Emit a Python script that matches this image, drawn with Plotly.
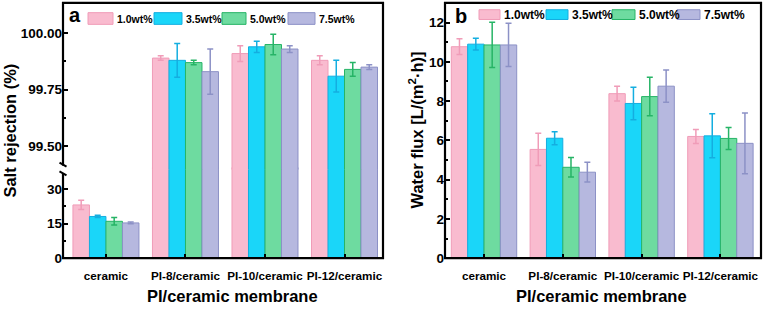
import plotly.graph_objects as go

W, H = 779, 312

categories = ["ceramic", "PI-8/ceramic", "PI-10/ceramic", "PI-12/ceramic"]
series = ["1.0wt%", "3.5wt%", "5.0wt%", "7.5wt%"]

# Salt rejection (%)
rej_10 = [23.1, 99.89, 99.91, 99.88]
rej_35 = [18.1, 99.88, 99.94, 99.81]
rej_50 = [16.0, 99.87, 99.95, 99.84]
rej_75 = [15.3, 99.83, 99.93, 99.85]
rej_err_10 = [2.0, 0.01, 0.035, 0.02]
rej_err_35 = [0.5, 0.075, 0.025, 0.07]
rej_err_50 = [1.6, 0.01, 0.045, 0.03]
rej_err_75 = [0.4, 0.10, 0.015, 0.01]

# Water flux L/(m2 h)
flux_10 = [10.77, 5.54, 8.38, 6.20]
flux_35 = [10.90, 6.11, 7.88, 6.23]
flux_50 = [10.86, 4.63, 8.23, 6.10]
flux_75 = [10.86, 4.38, 8.76, 5.85]
flux_err_10 = [0.40, 0.82, 0.38, 0.36]
flux_err_35 = [0.30, 0.33, 0.83, 1.12]
flux_err_50 = [1.15, 0.50, 0.98, 0.56]
flux_err_75 = [1.10, 0.50, 0.82, 1.55]

fills = ["#F9BBCF", "#1AD6F9", "#6EDBA0", "#B6B8DF"]
edges = ["#F09CB8", "#14AEE0", "#26B466", "#8C91C6"]

rej = [rej_10, rej_35, rej_50, rej_75]
rej_err = [rej_err_10, rej_err_35, rej_err_50, rej_err_75]
flux = [flux_10, flux_35, flux_50, flux_75]
flux_err = [flux_err_10, flux_err_35, flux_err_50, flux_err_75]

def px_x(v):
    return v / W

def px_y(v):
    return (H - v) / H

fig = go.Figure()

for i, name in enumerate(series):
    for xa, ya in (("x", "y"), ("x2", "y2")):
        fig.add_trace(go.Bar(
            x=categories, y=rej[i], name=name, xaxis=xa, yaxis=ya,
            marker=dict(color=fills[i], line=dict(color=edges[i], width=1)),
            error_y=dict(type="data", array=rej_err[i], color=edges[i], thickness=1.5, width=3),
            showlegend=False,
        ))
    fig.add_trace(go.Bar(
        x=categories, y=flux[i], name=name, xaxis="x3", yaxis="y3",
        marker=dict(color=fills[i], line=dict(color=edges[i], width=1)),
        error_y=dict(type="data", array=flux_err[i], color=edges[i], thickness=1.5, width=3),
        showlegend=False,
    ))

FONT = "Liberation Sans, Arial, sans-serif"
tickfont = dict(family=FONT, size=13.5, color="black", weight="bold")
xtickfont = dict(family=FONT, size=11.7, color="black", weight="bold")

yb, yt = px_y(265), px_y(3)
ysplit = px_y(174)
lx0, lx1 = px_x(63), px_x(383)
rx0, rx1 = px_x(445), px_x(761)

# lower part overlaps the upper one slightly to avoid a seam
lower_top = px_y(172)
lower_max = 0.4225 * (265 - 172)

common_y = dict(ticks="inside", ticklen=5, tickwidth=2, tickcolor="black",
                showgrid=False, zeroline=False, showline=False, tickfont=tickfont)

fig.update_layout(
    width=W, height=H, margin=dict(l=0, r=0, t=0, b=0),
    plot_bgcolor="rgba(0,0,0,0)", paper_bgcolor="white",
    barmode="group", bargap=0.17, bargroupgap=0,
    xaxis=dict(domain=[lx0, lx1], anchor="y", type="category", range=[-0.54, 3.484],
               ticks="inside", ticklen=4, tickwidth=2, tickcolor="black", tickangle=0,
               ticklabelstandoff=9,
               showgrid=False, showline=False, tickfont=xtickfont),
    yaxis=dict(domain=[yb, lower_top], anchor="x", range=[0, lower_max], tickvals=[0, 15, 30],
               minor=dict(ticks="inside", tickvals=[7.5, 22.5], ticklen=3, tickwidth=1.5, tickcolor="black"),
               **common_y),
    xaxis2=dict(domain=[lx0, lx1], anchor="y2", matches="x", type="category",
                showticklabels=False, ticks="", showgrid=False, showline=False),
    yaxis2=dict(domain=[ysplit, yt], anchor="x2", range=[99.397, 100.134],
                tickvals=[99.5, 99.75, 100.0], tickformat=".2f",
                minor=dict(ticks="inside", tickvals=[99.625, 99.875], ticklen=3, tickwidth=1.5, tickcolor="black"),
                **common_y),
    xaxis3=dict(domain=[rx0, rx1], anchor="y3", type="category", range=[-0.495, 3.515],
                ticks="inside", ticklen=4, tickwidth=2, tickcolor="black", tickangle=0,
                ticklabelstandoff=9,
                showgrid=False, showline=False, tickfont=xtickfont),
    yaxis3=dict(domain=[yb, yt], anchor="x3", range=[0, 13], dtick=2,
                minor=dict(ticks="inside", dtick=1, ticklen=3, tickwidth=1.5, tickcolor="black"),
                **common_y),
)

shapes = []
# frames
for x0, x1 in ((lx0, lx1), (rx0, rx1)):
    shapes.append(dict(type="rect", xref="paper", yref="paper", x0=x0, x1=x1, y0=yb, y1=yt,
                       line=dict(color="black", width=2.2), fillcolor="rgba(0,0,0,0)", layer="above"))
# axis break on left panel
shapes.append(dict(type="rect", xref="paper", yref="paper", x0=px_x(60), x1=px_x(66),
                   y0=px_y(178), y1=px_y(170), line=dict(width=0), fillcolor="white", layer="above"))
for yy in (167, 176):
    shapes.append(dict(type="line", xref="paper", yref="paper", x0=px_x(59.5), x1=px_x(66.5),
                       y0=px_y(yy), y1=px_y(yy + 4), line=dict(color="black", width=2), layer="above"))

annotations = []
# custom legends
leg_left = dict(boxes=[(88, 113), (154, 182), (222, 246), (288, 315)], y0=13, y1=25, size=10.5)
leg_right = dict(boxes=[(479, 500), (546, 568), (612, 635), (677, 700)], y0=10, y1=20, size=12)
for leg in (leg_left, leg_right):
    for i, (bx0, bx1) in enumerate(leg["boxes"]):
        shapes.append(dict(type="rect", xref="paper", yref="paper", x0=px_x(bx0), x1=px_x(bx1),
                           y0=px_y(leg["y1"]), y1=px_y(leg["y0"]),
                           line=dict(color=edges[i], width=1), fillcolor=fills[i], layer="above"))
        annotations.append(dict(xref="paper", yref="paper", x=px_x(bx1 + 1.5), y=px_y((leg["y0"] + leg["y1"]) / 2),
                                text="<b>%s</b>" % series[i], showarrow=False, xanchor="left", yanchor="middle",
                                font=dict(family=FONT, size=leg["size"], color="black")))

# panel labels
annotations.append(dict(xref="paper", yref="paper", x=px_x(67), y=px_y(15), text="<b>a</b>", showarrow=False,
                        xanchor="left", yanchor="middle", font=dict(family=FONT, size=20, color="black")))
annotations.append(dict(xref="paper", yref="paper", x=px_x(453), y=px_y(16), text="<b>b</b>", showarrow=False,
                        xanchor="left", yanchor="middle", font=dict(family=FONT, size=20, color="black")))

# axis titles
for cx in (232, 601):
    annotations.append(dict(xref="paper", yref="paper", x=px_x(cx), y=px_y(304),
                            text="<b>PI/ceramic membrane</b>", showarrow=False, xanchor="center", yanchor="middle",
                            font=dict(family=FONT, size=16.5, color="black")))
annotations.append(dict(xref="paper", yref="paper", x=px_x(10), y=px_y(134), textangle=-90,
                        text="<b>Salt rejection (%)</b>", showarrow=False, xanchor="center", yanchor="middle",
                        font=dict(family=FONT, size=16.5, color="black")))
annotations.append(dict(xref="paper", yref="paper", x=px_x(416), y=px_y(134), textangle=-90,
                        text="<b>Water flux [L/(m<sup>2</sup>·h)]</b>", showarrow=False, xanchor="center",
                        yanchor="middle", font=dict(family=FONT, size=16.5, color="black")))

fig.update_layout(shapes=shapes, annotations=annotations)

fig.write_html("out.html", config={"displayModeBar": False},
               post_script="document.body.style.margin='0px';document.body.style.overflow='hidden';")
